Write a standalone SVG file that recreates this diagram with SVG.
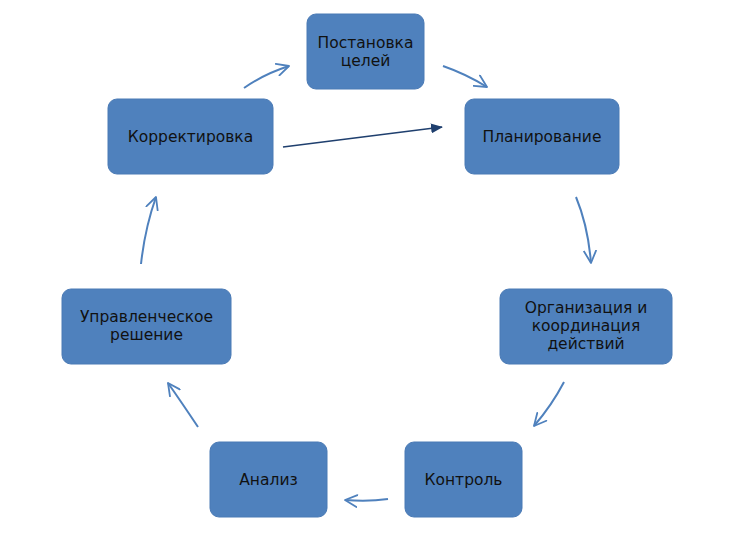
<svg xmlns="http://www.w3.org/2000/svg" width="755" height="540" viewBox="0 0 755 540">
<defs>
<marker id="open" viewBox="0 0 14 14" refX="13" refY="7" markerWidth="14" markerHeight="14" markerUnits="userSpaceOnUse" orient="auto">
<path d="M1,1 L13,7 L1,13" fill="none" stroke="#4f81bd" stroke-width="1.8" stroke-linecap="round" stroke-linejoin="round"/>
</marker>
<marker id="solid" viewBox="0 0 12 10" refX="11" refY="5" markerWidth="12" markerHeight="10" markerUnits="userSpaceOnUse" orient="auto">
<path d="M0,0 L12,5 L0,10 Z" fill="#1f3f6e"/>
</marker>
</defs>
<style>
.node rect{fill:#4f81bd;stroke:#4a7ab5;stroke-width:1}
.node text{font-family:"DejaVu Sans",Verdana,sans-serif;font-size:15.5px;fill:#111;text-anchor:middle}
.c{fill:none;stroke:#4f81bd;stroke-width:2;marker-end:url(#open)}
.s{fill:none;stroke:#1f3f6e;stroke-width:1.6;marker-end:url(#solid)}
</style>
<rect width="755" height="540" fill="#fff"/>
<g id="connectors">
<path class="c" d="M244,88 Q264,74 289,66"/>
<path class="c" d="M443,66 Q466,74 487,87"/>
<path class="s" d="M283,147 L442,127"/>
<path class="c" d="M576,197 Q588,226 591,263"/>
<path class="c" d="M564,382 Q552,405 534,426"/>
<path class="c" d="M388,499 Q368,502 345,500"/>
<path class="c" d="M198,427 Q182,403 168,383"/>
<path class="c" d="M141,264 Q145,228 156,197"/>
</g>
<g id="n-goals" class="node"><rect x="307" y="14" width="117" height="75" rx="9"/><text x="365.5" y="48">Постановка</text><text x="365.5" y="66">целей</text></g>
<g id="n-correct" class="node"><rect x="108" y="99" width="165" height="75" rx="9"/><text x="190.5" y="142">Корректировка</text></g>
<g id="n-plan" class="node"><rect x="465" y="99" width="154" height="75" rx="9"/><text x="542" y="142">Планирование</text></g>
<g id="n-org" class="node"><rect x="500" y="289" width="172" height="75" rx="9"/><text x="586" y="313">Организация и</text><text x="586" y="331">координация</text><text x="586" y="349">действий</text></g>
<g id="n-decision" class="node"><rect x="62" y="289" width="169" height="75" rx="9"/><text x="146.5" y="322">Управленческое</text><text x="146.5" y="340">решение</text></g>
<g id="n-control" class="node"><rect x="405" y="442" width="117" height="75" rx="9"/><text x="463.5" y="485">Контроль</text></g>
<g id="n-analysis" class="node"><rect x="210" y="442" width="117" height="75" rx="9"/><text x="268.5" y="485">Анализ</text></g>
</svg>
